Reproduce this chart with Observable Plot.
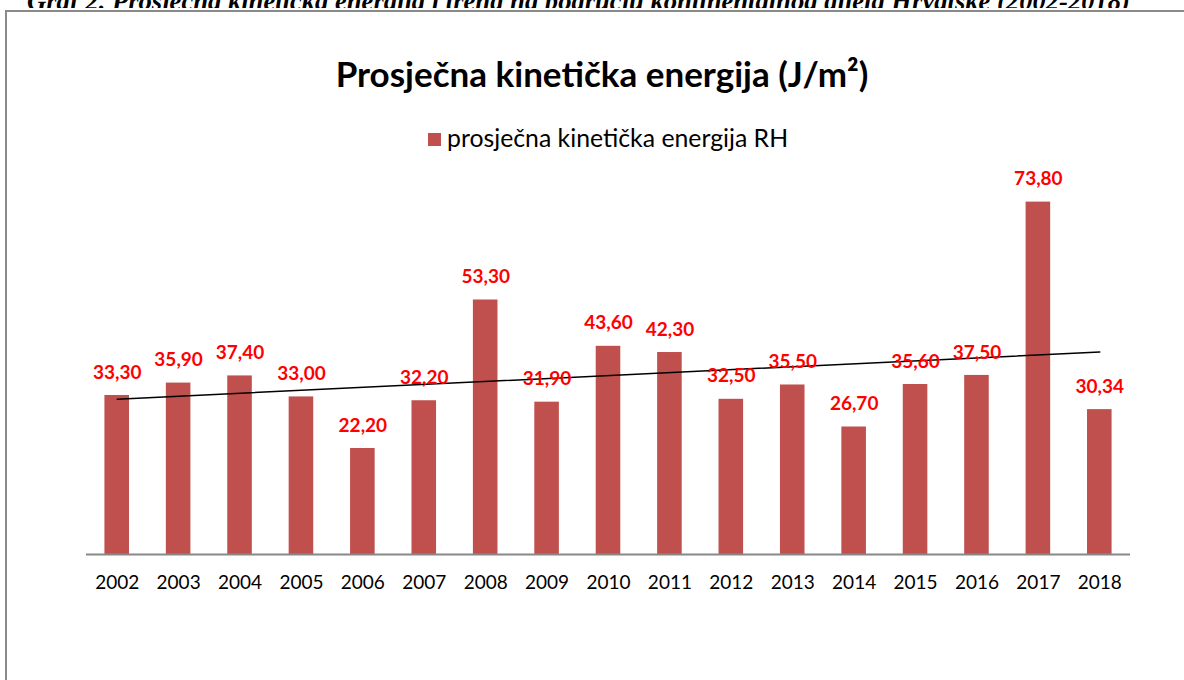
<!DOCTYPE html>
<html>
<head>
<meta charset="utf-8">
<script src="https://cdn.jsdelivr.net/npm/d3@7"></script>
<script src="https://cdn.jsdelivr.net/npm/@observablehq/plot@0.6"></script>
<style>
  html, body { margin: 0; padding: 0; background: #fff; }
  #wrap { position: relative; width: 1184px; height: 680px; overflow: hidden; background: #fff; }
  #cap { position: absolute; left: 27px; top: -12.5px; font: italic bold 26.6px "Liberation Serif", "Times New Roman", serif; line-height: 26.6px; white-space: nowrap; color: #000; }
  #strip { position: absolute; left: 0; top: 8px; width: 1184px; height: 4px; background: #fff; }
  #box { position: absolute; left: 5px; top: 10px; width: 1300px; height: 800px; border-left: 2px solid #8a8a8a; border-top: 2px solid #8a8a8a; background: #fff; }
  #chart { position: absolute; left: 0; top: 0; }
  #title { position: absolute; left: 602px; top: 51.5px; transform: translateX(-50%); font: bold 35px Lato, sans-serif; white-space: nowrap; color: #000; line-height: 42px; }
  #legend { position: absolute; left: 428px; top: 124px; font: 24.8px Lato, sans-serif; white-space: nowrap; color: #000; display: flex; align-items: center; line-height: 28px; }
  #legend .sw { width: 13px; height: 13px; background: #C0504D; margin-right: 6px; margin-top: 2px; }
</style>
</head>
<body>
<div id="wrap">
  <div id="cap">Graf 2. Prosječna kinetička energija i trend na području kontinentalnog dijela Hrvatske (2002-2018)</div>
  <div id="strip"></div>
  <div id="box"></div>
  <div id="chart"></div>
  <div id="title">Prosječna kinetička energija (J/m²)</div>
  <div id="legend"><span class="sw"></span><span>prosječna kinetička energija RH</span></div>
</div>
<script>
const years = ["2002","2003","2004","2005","2006","2007","2008","2009","2010","2011","2012","2013","2014","2015","2016","2017","2018"];
const energy = [33.30, 35.90, 37.40, 33.00, 22.20, 32.20, 53.30, 31.90, 43.60, 42.30, 32.50, 35.50, 26.70, 35.60, 37.50, 73.80, 30.34];
const seriesName = "prosječna kinetička energija RH";

const data = years.map((y, i) => ({year: y, value: energy[i]}));

// least-squares linear trend (as Excel's linear trendline)
const n = energy.length;
const mx = (n - 1) / 2;
const my = d3.mean(energy);
let sxy = 0, sxx = 0;
energy.forEach((v, i) => { sxy += (i - mx) * (v - my); sxx += (i - mx) ** 2; });
const slope = sxy / sxx;
const intercept = my - slope * mx;
const trend = [0, n - 1].map(i => ({year: years[i], value: intercept + slope * i}));

const fmt = v => v.toFixed(2).replace(".", ",");

const chart = Plot.plot({
  width: 1184,
  height: 680,
  marginLeft: 86,
  marginRight: 54,
  marginTop: 172,
  marginBottom: 126,
  style: {background: "transparent", fontFamily: "Lato, sans-serif"},
  x: {domain: years, paddingInner: 0.6, paddingOuter: 0.3, round: false, label: null},
  y: {domain: [0, 80], axis: null},
  marks: [
    Plot.barY(data, {x: "year", y: "value", fill: "#C0504D"}),
    Plot.ruleY([0], {stroke: "#888888", strokeWidth: 2}),
    Plot.line(trend, {x: "year", y: "value", stroke: "#000", strokeWidth: 1.5}),
    Plot.text(data, {x: "year", y: "value", text: d => fmt(d.value), dy: -23, fill: "#FF0000", fontWeight: "bold", fontSize: 19}),
    Plot.axisX({tickSize: 0, tickPadding: 21, fontSize: 19, fill: "#000", label: null})
  ]
});
document.getElementById("chart").appendChild(chart);
</script>
</body>
</html>
